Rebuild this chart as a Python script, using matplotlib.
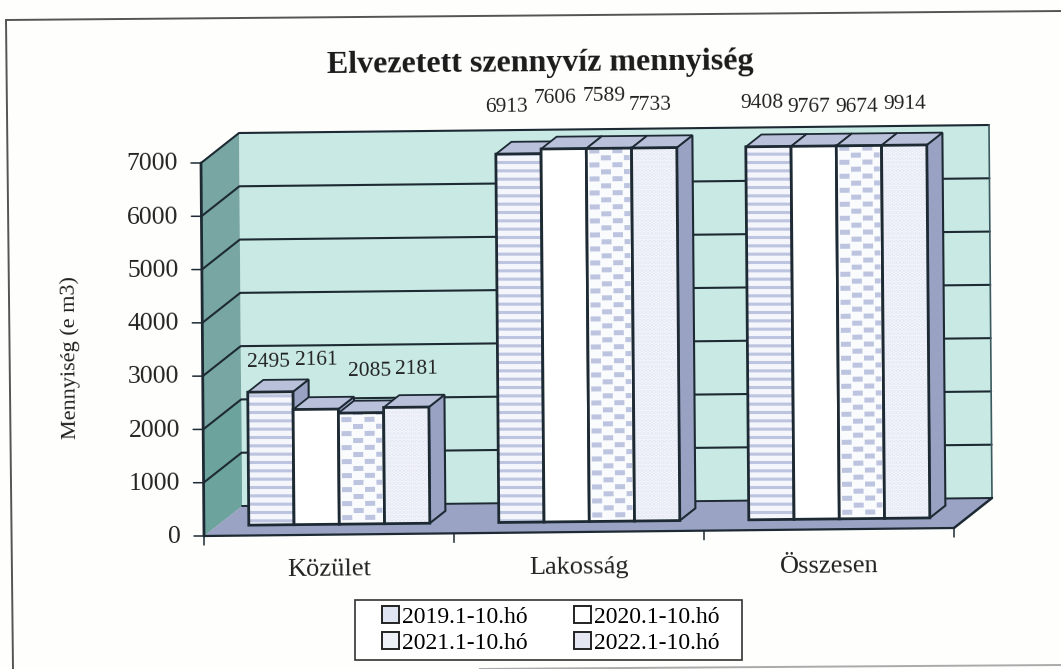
import numpy as np
import matplotlib
matplotlib.use("Agg")
import matplotlib.pyplot as plt
from matplotlib.patches import Polygon, Patch, Rectangle
from matplotlib.lines import Line2D

plt.rcParams['font.family'] = ['Liberation Serif', 'DejaVu Serif']
plt.rcParams['hatch.linewidth'] = 2.2

# Data
categories = ["Közület", "Lakosság", "Összesen"]
series_names = ["2019.1-10.hó", "2020.1-10.hó", "2021.1-10.hó", "2022.1-10.hó"]
kozulet = [2495, 2161, 2085, 2181]
lakossag = [6913, 7606, 7589, 7733]
osszesen = [9408, 9767, 9674, 9914]
yticks = [0, 1000, 2000, 3000, 4000, 5000, 6000, 7000]
ymax = 7000

# Style
W, H = 1061, 669
DARK = "#1d2a33"
WALL = "#c8e9e4"
SIDE_WALL = "#78a6a2"
FLOOR = "#9ba3c4"
TOP = "#b9c1da"
SIDE = "#99a2c3"
PAT = "#bcc4e0"

fig = plt.figure(figsize=(W / 100, H / 100), dpi=100, facecolor="#fefefd")
ax = fig.add_axes([204 / W, (H - 536) / H, 750 / W, 373 / H])
ax.set_xlim(0, 3)
ax.set_ylim(0, ymax)
ax.axis("off")

px_x = 3 / 750       # one pixel in x units
px_y = ymax / 373    # one pixel in value units


# the scan is slightly rotated, the depth goes up and to the right
def project(x, v, d=0.0):
    px = x + d * 38 * px_x - v * (3 * px_x / ymax)
    py = v + d * 30 * px_y + x * (8 * px_y / 3)
    return px, py


def poly(points, **kw):
    kw.setdefault("clip_on", False)
    p = Polygon([project(*q) for q in points], closed=True, **kw)
    ax.add_patch(p)
    return p


def line(points, color=DARK, lw=1.6):
    xy = [project(*q) for q in points]
    ax.plot([q[0] for q in xy], [q[1] for q in xy], color=color, lw=lw,
            clip_on=False, solid_capstyle="round")


# Walls and floor
poly([(0, 0, 1), (3, 0, 1), (3, ymax, 1), (0, ymax, 1)], facecolor=WALL, edgecolor="none")
poly([(0, 0, 0), (0, 0, 1), (0, ymax, 1), (0, ymax, 0)], facecolor=SIDE_WALL, edgecolor="none")
poly([(0, 0, 0), (0, 0, 1), (0, 2000, 1), (0, 2000, 0)], facecolor="#6ca39d", edgecolor="none")
for v in yticks[1:]:
    line([(0, v, 0), (0, v, 1), (3, v, 1)], lw=1.5)
line([(3, ymax, 1), (3, 0, 1)], color="#3b5a60", lw=1.2)
poly([(0, 0, 0), (3, 0, 0), (3, 0, 1), (0, 0, 1)], facecolor=FLOOR, edgecolor="none")
line([(0, 0, 1), (3, 0, 1)], lw=1.4)
line([(3, 0, 0), (3, 0, 1)], lw=1.8)

# Axis lines and ticks
line([(0, 0), (3, 0)], lw=1.6)
line([(0, 0), (0, ymax)], lw=2.0)
for v in yticks:
    xy = project(0, v)
    ax.annotate(xy=xy, text="", xytext=(-10, 0), textcoords="offset pixels",
                arrowprops=dict(arrowstyle="-", color=DARK, lw=1.1, shrinkA=0, shrinkB=0),
                annotation_clip=False)
    ax.annotate(str(v), xy=xy, xytext=(-23, -1), textcoords="offset pixels", ha="right",
                va="center", fontsize=18.5, color="#222222", rotation=0.5, annotation_clip=False)
for i in range(4):
    xy = project(i, 0)
    ax.annotate(xy=xy, text="", xytext=(0, -9), textcoords="offset pixels",
                arrowprops=dict(arrowstyle="-", color=DARK, lw=1.1, shrinkA=0, shrinkB=0),
                annotation_clip=False)
cat_shift = [-35, -36, -37]
for i, name in enumerate(categories):
    ax.annotate(name, xy=project(i + 0.5, 0), xytext=(0, cat_shift[i]), textcoords="offset pixels",
                ha="center", va="center", fontsize=19, color="#222222", rotation=0.5,
                annotation_clip=False)

# Bars
groups = [kozulet, lakossag, osszesen]
bar_w = 0.181
gap = 0.126
d0, d1 = 0.35, 0.76

# label shift from the top centre of the bar, the labels were moved by hand in the original
label_shift = [
    [(-2, 30), (1, 49), (9, 42), (10, 38)],
    [(-12, 47), (-9, 50), (-5, 52), (-4, 42)],
    [(-7, 43), (-5, 39), (-2, 38), (0, 41)],
]


def checker(x0, x1, top):
    # blue blocks on a staggered grid
    rows = np.arange(4, (top - 0) / px_y, 7.0)
    for r, row in enumerate(rows):
        start = 3 + (r % 2) * 11.5
        for col in np.arange(start, (x1 - x0) / px_x, 23.0):
            a = x0 + col * px_x
            b = min(a + 10 * px_x, x1 - 2 * px_x)
            if b <= a:
                continue
            v0 = row * px_y
            v1 = min(v0 + 5 * px_y, top)
            poly([(a, v0, d0), (b, v0, d0), (b, v1, d0), (a, v1, d0)],
                 facecolor=PAT, edgecolor="none", zorder=3)


for i, values in enumerate(groups):
    for j, value in enumerate(values):
        x0 = i + gap + j * bar_w
        x1 = x0 + bar_w
        h = min(value, ymax)   # the axis stops at 7000, taller bars are cut off
        z = 3
        front = [(x0, 0, d0), (x1, 0, d0), (x1, h, d0), (x0, h, d0)]
        poly([(x1, 0, d0), (x1, 0, d1), (x1, h, d1), (x1, h, d0)],
             facecolor=SIDE, edgecolor=DARK, lw=1.5, zorder=z)
        poly([(x0, h, d0), (x1, h, d0), (x1, h, d1), (x0, h, d1)],
             facecolor=TOP, edgecolor=DARK, lw=1.3, zorder=z)
        if j == 0:
            poly(front, facecolor="#f4f6fb", edgecolor=PAT, hatch="--", lw=0, zorder=z)
        elif j == 1:
            poly(front, facecolor="white", edgecolor="none", zorder=z)
        elif j == 2:
            poly(front, facecolor="#fafbfd", edgecolor="none", zorder=z)
            checker(x0, x1, h)
        else:
            poly(front, facecolor="#f8f9fd", edgecolor="#e2e6f4", hatch="....", lw=0, zorder=z)
        poly(front, facecolor="none", edgecolor=DARK, lw=2.0, zorder=z)
        dx, dy = label_shift[i][j]
        ax.annotate(str(value), xy=project((x0 + x1) / 2, h, d0), xytext=(dx, dy),
                    textcoords="offset pixels", ha="center", va="center", fontsize=15.5,
                    color="#222222", rotation=0.5, annotation_clip=False, zorder=5)

# Titles
fig.text(540 / W, 1 - 64 / H, "Elvezetett szennyvíz mennyiség", ha="center", va="center",
         fontsize=23, fontweight="bold", color="#1a1a1a", rotation=0.5)
fig.text(70 / W, 1 - 358 / H, "Mennyiség (e m3)", ha="center", va="center", fontsize=16,
         color="#222222", rotation=90.5)

# Legend, the box is drawn apart because it has more room at the sides than above
fig.add_artist(Rectangle((355 / W, 1 - 660 / H), 387 / W, 60 / H, transform=fig.transFigure,
                         facecolor="white", edgecolor="#333333", lw=1.2))
handles = [Patch(facecolor=c, edgecolor="#222222", lw=1.4)
           for c in ["#dfe4f2", "white", "#eef0f8", "#e4e7f2"]]
# column-wise order of matplotlib, so the rows read 2019 2020 / 2021 2022
order = [0, 2, 1, 3]
leg = fig.legend([handles[k] for k in order], [series_names[k] for k in order], ncol=2,
                 loc="center", bbox_to_anchor=(551 / W, 1 - 630 / H), fontsize=17,
                 frameon=False, handlelength=0.7, handleheight=0.7, handletextpad=0.15,
                 columnspacing=1.96, labelspacing=0.2, borderpad=0.25, borderaxespad=0)

# Page frame of the scan
for (x0, y0, x1, y1, c) in [(6, 20, 1061, 11, "#555555"), (6, 20, 13, 669, "#555555"),
                            (480, 669, 1061, 665, "#aaaaaa")]:
    fig.add_artist(Line2D([x0 / W, x1 / W], [1 - y0 / H, 1 - y1 / H], color=c, lw=1.4))

fig.savefig("out.png", dpi=100, facecolor=fig.get_facecolor())
